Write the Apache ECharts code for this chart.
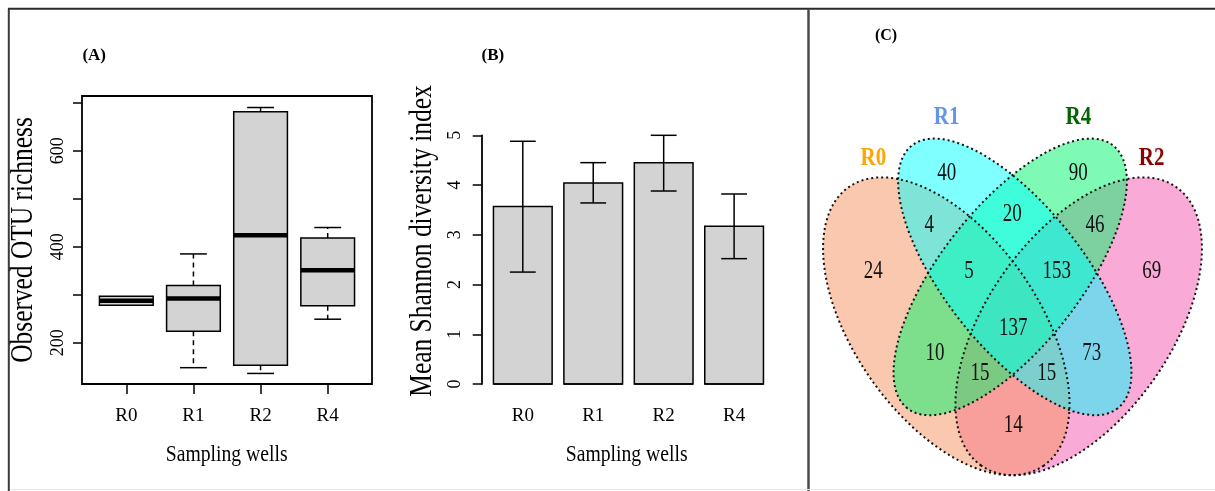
<!DOCTYPE html>
<html><head><meta charset="utf-8">
<script src="https://cdn.jsdelivr.net/npm/echarts@6/dist/echarts.min.js"></script>
<style>html,body{margin:0;padding:0;background:#fff;overflow:hidden}#c{width:1215px;height:491px}</style>
</head><body><div id="c"></div>
<script>
// ---------- data ----------
const categories = ['R0', 'R1', 'R2', 'R4'];
// Panel A: observed OTU richness boxplot
const boxMin    = [278, 148, 136, 249];
const boxQ1     = [278, 224, 153, 277];
const boxMedian = [287.5, 292, 424, 351];
const boxQ3     = [297, 319, 681, 418];
const boxMax    = [297, 385, 690, 440];
const richnessTicks  = [200, 300, 400, 500, 600, 700];
const richnessLabels = [200, 400, 600];
// Panel B: mean Shannon diversity index
const shannonMean = [3.57, 4.04, 4.45, 3.17];
const shannonLow  = [2.25, 3.64, 3.88, 2.52];
const shannonHigh = [4.88, 4.45, 5.00, 3.82];
const shannonTicks = [0, 1, 2, 3, 4, 5];
// Panel C: Venn diagram
const vennSets    = ['R0', 'R1', 'R4', 'R2'];
const vennRegions = ['R0', 'R1', 'R4', 'R2', 'R0&R1', 'R1&R4', 'R4&R2', 'R0&R1&R4', 'R1&R4&R2',
                     'R0&R1&R4&R2', 'R0&R4', 'R1&R2', 'R0&R4&R2', 'R0&R1&R2', 'R0&R2'];
const vennCounts  = [24, 40, 90, 69, 4, 20, 46, 5, 153, 137, 10, 73, 15, 15, 14];

// ---------- layout / style ----------
const FONT = '"Liberation Serif","Times New Roman",serif';
const vennLabelPos = {
  'R0': [873.3, 271.7], 'R1': [946.7, 173.3], 'R4': [1078.3, 173.3], 'R2': [1151.7, 271.7],
  'R0&R1': [929.3, 225.7], 'R1&R4': [1012.3, 215], 'R4&R2': [1095, 225.7],
  'R0&R1&R4': [969, 271.7], 'R1&R4&R2': [1056.7, 271.7], 'R0&R1&R4&R2': [1013.3, 328.3],
  'R0&R4': [935, 353.3], 'R1&R2': [1091.7, 353.3], 'R0&R4&R2': [980, 374],
  'R0&R1&R2': [1046.7, 374], 'R0&R2': [1013.3, 426]
};
const setLabelPos = { R0: [873.3, 158.3], R1: [946.7, 117.3], R4: [1078.3, 117.3], R2: [1151.7, 158.3] };
const setLabelColor = { R0: '#FFA500', R1: '#6495ED', R4: '#006400', R2: '#8B0000' };
const setFill = { R0: 'rgba(245,145,95,0.5)', R1: 'rgba(0,255,255,0.5)', R4: 'rgba(0,245,105,0.5)', R2: 'rgba(245,85,175,0.5)' };
const ellipseShape = {
  R0: { cx: 946.3, cy: 326.3, a: 170, b: 92, angle: 55 },
  R2: { cx: 1078.7, cy: 326.3, a: 170, b: 92, angle: 125 },
  R1: { cx: 1014.8, cy: 276.9, a: 166.9, b: 69.9, angle: 51.95 },
  R4: { cx: 1010.2, cy: 276.9, a: 166.9, b: 69.9, angle: 128.05 }
};
const drawOrder = ['R2', 'R0', 'R4', 'R1'];

function ellipsePoints(api, e) {
  const pts = [], th = e.angle * Math.PI / 180;
  for (let i = 0; i < 180; i++) {
    const t = i / 180 * Math.PI * 2;
    const x = e.cx + e.a * Math.cos(t) * Math.cos(th) - e.b * Math.sin(t) * Math.sin(th);
    const y = e.cy + e.a * Math.cos(t) * Math.sin(th) + e.b * Math.sin(t) * Math.cos(th);
    pts.push(api.coord([x, y]));
  }
  return pts;
}

const boxData = categories.map((c, i) => [i + 1, boxMin[i], boxQ1[i], boxMedian[i], boxQ3[i], boxMax[i]]);
const barPos = categories.map((c, i) => 0.7 + 1.2 * i);
const barData = categories.map((c, i) => [barPos[i], shannonMean[i], shannonLow[i], shannonHigh[i]]);

const chart = echarts.init(document.getElementById('c'));
const black = '#000';
chart.setOption({
  animation: false,
  backgroundColor: '#fff',
  grid: [
    { left: 82, top: 96, width: 290, height: 288, show: true, borderColor: black, borderWidth: 1.8, backgroundColor: 'transparent' },
    { left: 481.7, top: 135.3, width: 293.5, height: 248.7 },
    { left: 810, top: 20, width: 405, height: 471 }
  ],
  xAxis: [
    { gridIndex: 0, type: 'value', min: 0.34, max: 4.66,
      axisLine: { show: false }, splitLine: { show: false },
      axisTick: { show: true, customValues: [1, 2, 3, 4], length: 10, lineStyle: { color: black, width: 1.5 } },
      axisLabel: { customValues: [1, 2, 3, 4], formatter: v => categories[Math.round(v) - 1], margin: 23,
                   fontSize: 19, fontFamily: FONT, color: black } },
    { gridIndex: 1, type: 'value', min: 0, max: 5,
      axisLine: { show: false }, splitLine: { show: false }, axisTick: { show: false },
      axisLabel: { customValues: barPos, formatter: v => categories[Math.round((v - 0.7) / 1.2)], margin: 23,
                   fontSize: 19, fontFamily: FONT, color: black } },
    { gridIndex: 2, type: 'value', min: 810, max: 1215, show: false }
  ],
  yAxis: [
    { gridIndex: 0, type: 'value', min: 114, max: 714,
      axisLine: { show: false }, splitLine: { show: false },
      axisTick: { show: true, customValues: richnessTicks, length: 9, lineStyle: { color: black, width: 1.5 } },
      axisLabel: { customValues: richnessLabels, rotate: 90, margin: 15, fontSize: 18, fontFamily: FONT, color: black } },
    { gridIndex: 1, type: 'value', min: 0, max: 5,
      axisLine: { show: true, lineStyle: { color: black, width: 1.8 } }, splitLine: { show: false },
      axisTick: { show: true, customValues: shannonTicks, length: 9, lineStyle: { color: black, width: 1.5 } },
      axisLabel: { customValues: shannonTicks, rotate: 90, margin: 17, fontSize: 18, fontFamily: FONT, color: black } },
    { gridIndex: 2, type: 'value', min: 20, max: 491, inverse: true, show: false }
  ],
  series: [
    { type: 'custom', xAxisIndex: 0, yAxisIndex: 0, data: boxData, z: 3,
      renderItem(params, api) {
        const x = api.value(0), mn = api.value(1), q1 = api.value(2), md = api.value(3), q3 = api.value(4), mx = api.value(5);
        const hw = 0.4, cw = 0.2, ch = [];
        const c = (a, b) => api.coord([a, b]);
        const ln = (p1, p2, st) => ({ type: 'line', shape: { x1: p1[0], y1: p1[1], x2: p2[0], y2: p2[1] }, style: st });
        const dashed = { stroke: black, lineWidth: 1.5, lineDash: [5, 4] };
        const solid = { stroke: black, lineWidth: 1.5 };
        if (mx > q3) { ch.push(ln(c(x, q3), c(x, mx), dashed)); ch.push(ln(c(x - cw, mx), c(x + cw, mx), solid)); }
        if (mn < q1) { ch.push(ln(c(x, q1), c(x, mn), dashed)); ch.push(ln(c(x - cw, mn), c(x + cw, mn), solid)); }
        const tl = c(x - hw, q3), br = c(x + hw, q1);
        ch.push({ type: 'rect', shape: { x: tl[0], y: tl[1], width: br[0] - tl[0], height: br[1] - tl[1] },
                  style: { fill: '#d3d3d3', stroke: black, lineWidth: 1.5 } });
        ch.push(ln(c(x - hw, md), c(x + hw, md), { stroke: black, lineWidth: 4.5 }));
        return { type: 'group', children: ch };
      } },
    { type: 'custom', xAxisIndex: 1, yAxisIndex: 1, data: barData, z: 3,
      renderItem(params, api) {
        const x = api.value(0), m = api.value(1), lo = api.value(2), hi = api.value(3);
        const c = (a, b) => api.coord([a, b]);
        const tl = c(x - 0.5, m), br = c(x + 0.5, 0);
        const ln = (p1, p2) => ({ type: 'line', shape: { x1: p1[0], y1: p1[1], x2: p2[0], y2: p2[1] }, style: { stroke: black, lineWidth: 1.5 } });
        return { type: 'group', children: [
          { type: 'rect', shape: { x: tl[0], y: tl[1], width: br[0] - tl[0], height: br[1] - tl[1] },
            style: { fill: '#d3d3d3', stroke: black, lineWidth: 1.5 } },
          ln(c(x - 0.5, 0), c(x + 0.5, 0)),
          ln(c(x, lo), c(x, hi)), ln(c(x - 0.22, lo), c(x + 0.22, lo)), ln(c(x - 0.22, hi), c(x + 0.22, hi))
        ] };
      } },
    { type: 'custom', xAxisIndex: 2, yAxisIndex: 2, z: 2, data: drawOrder.map(s => [vennSets.indexOf(s), 0]),
      renderItem(params, api) {
        const s = vennSets[api.value(0)];
        return { type: 'polygon', shape: { points: ellipsePoints(api, ellipseShape[s]) }, style: { fill: setFill[s], stroke: 'none' } };
      } },
    { type: 'custom', xAxisIndex: 2, yAxisIndex: 2, z: 3, data: vennSets.map((s, i) => [i, 0]),
      renderItem(params, api) {
        const s = vennSets[api.value(0)];
        return { type: 'polygon', shape: { points: ellipsePoints(api, ellipseShape[s]) },
                 style: { fill: 'none', stroke: '#111', lineWidth: 2, lineDash: [2, 3] } };
      } },
    { type: 'custom', xAxisIndex: 2, yAxisIndex: 2, z: 4, data: vennRegions.map((r, i) => [i, vennCounts[i]]),
      renderItem(params, api) {
        const r = vennRegions[api.value(0)], p = api.coord(vennLabelPos[r]);
        return { type: 'text', x: p[0], y: p[1], scaleY: 1.28,
                 style: { text: String(api.value(1)), fill: '#111', font: '19px ' + FONT, align: 'center', verticalAlign: 'middle' } };
      } },
    { type: 'custom', xAxisIndex: 2, yAxisIndex: 2, z: 4, data: vennSets.map((s, i) => [i, 0]),
      renderItem(params, api) {
        const s = vennSets[api.value(0)], p = api.coord(setLabelPos[s]);
        return { type: 'text', x: p[0], y: p[1], scaleY: 1.15,
                 style: { text: s, fill: setLabelColor[s], font: 'bold 21px ' + FONT, align: 'center', verticalAlign: 'middle' } };
      } }
  ],
  graphic: [
    { type: 'line', shape: { x1: 8.8, y1: 8.8, x2: 8.8, y2: 491 }, style: { stroke: '#3a3a3a', lineWidth: 2 } },
    { type: 'line', shape: { x1: 8, y1: 8.8, x2: 1215, y2: 8.8 }, style: { stroke: '#2a2a2a', lineWidth: 2 } },
    { type: 'line', shape: { x1: 808.5, y1: 8.8, x2: 808.5, y2: 491 }, style: { stroke: '#4a4a4a', lineWidth: 2.5 } },
    { type: 'line', shape: { x1: 10, y1: 489.5, x2: 1215, y2: 489.5 }, style: { stroke: '#e6e6e6', lineWidth: 1 } },
    { type: 'text', x: 94.2, y: 55.8, style: { text: '(A)', font: 'bold 17px ' + FONT, fill: black, align: 'center', verticalAlign: 'middle' } },
    { type: 'text', x: 492.8, y: 55.8, style: { text: '(B)', font: 'bold 17px ' + FONT, fill: black, align: 'center', verticalAlign: 'middle' } },
    { type: 'text', x: 886, y: 35.5, style: { text: '(C)', font: 'bold 16px ' + FONT, fill: black, align: 'center', verticalAlign: 'middle' } },
    { type: 'text', x: 226.7, y: 455, scaleX: 0.82, style: { text: 'Sampling wells', font: '24px ' + FONT, fill: black, align: 'center', verticalAlign: 'middle' } },
    { type: 'text', x: 626.7, y: 455, scaleX: 0.82, style: { text: 'Sampling wells', font: '24px ' + FONT, fill: black, align: 'center', verticalAlign: 'middle' } },
    { type: 'text', x: 23.4, y: 240, rotation: Math.PI / 2, scaleX: 0.82, style: { text: 'Observed OTU richness', font: '31px ' + FONT, fill: black, align: 'center', verticalAlign: 'middle' } },
    { type: 'text', x: 423.3, y: 241, rotation: Math.PI / 2, scaleX: 0.82, style: { text: 'Mean Shannon diversity index', font: '31px ' + FONT, fill: black, align: 'center', verticalAlign: 'middle' } }
  ]
});
</script></body></html>
